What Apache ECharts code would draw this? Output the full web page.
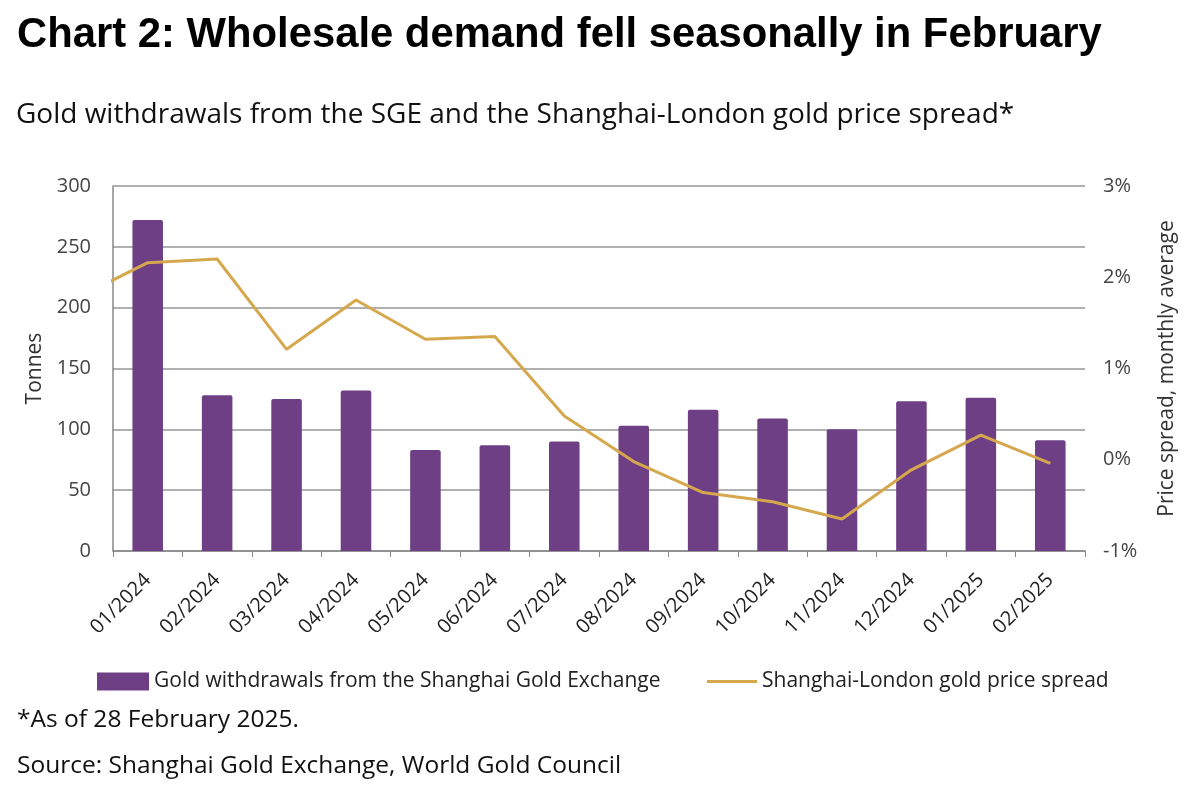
<!DOCTYPE html>
<html>
<head>
<meta charset="utf-8">
<script src="https://cdn.jsdelivr.net/npm/echarts@6/dist/echarts.min.js"></script>
<style>html,body{margin:0;padding:0;background:#fff}#c{width:1200px;height:787px}</style>
</head>
<body>
<div id="c"></div>
<script>
const categories = ['01/2024','02/2024','03/2024','04/2024','05/2024','06/2024','07/2024','08/2024','09/2024','10/2024','11/2024','12/2024','01/2025','02/2025'];
const withdrawals = [272, 128, 125, 132, 83, 87, 90, 103, 116, 109, 100, 123, 126, 91];
// Spread series includes 12/2023 (clipped at the plot edge)
const spreadPrev = 1.78;
const spread = [2.16, 2.20, 1.21, 1.75, 1.32, 1.35, 0.48, -0.02, -0.36, -0.46, -0.65, -0.11, 0.27, -0.04];
const leftTicks = [0, 50, 100, 150, 200, 250, 300];
const rightTicks = [-1, 0, 1, 2, 3];

const spreadData = [[-1, spreadPrev]].concat(spread.map((v, i) => [i, v]));

const BAR_NAME = 'Gold withdrawals from the Shanghai Gold Exchange';
const LINE_NAME = 'Shanghai-London gold price spread';

const chart = echarts.init(document.getElementById('c'));
const labelFont = 'Open Sans';
chart.setOption({
  animation: false,
  title: [
    {text: 'Chart 2: Wholesale demand fell seasonally in February', left: 17, top: 14, padding: 0,
     textStyle: {fontFamily: 'Liberation Sans', fontWeight: 'bold', fontSize: 41.8, color: '#000'}},
    {text: 'Gold withdrawals from the SGE and the Shanghai-London gold price spread*', left: 16, top: 101, padding: 0,
     textStyle: {fontFamily: labelFont, fontWeight: 'normal', fontSize: 28, color: '#111'}},
    {text: '*As of 28 February 2025.', left: 17, top: 708, padding: 0,
     textStyle: {fontFamily: labelFont, fontWeight: 'normal', fontSize: 24.5, color: '#111'}},
    {text: 'Source: Shanghai Gold Exchange, World Gold Council', left: 17, top: 754, padding: 0,
     textStyle: {fontFamily: labelFont, fontWeight: 'normal', fontSize: 24.5, color: '#111'}}
  ],
  legend: [
    {left: 97, top: 671, padding: 0, itemWidth: 52, itemHeight: 18, itemGap: 4,
     textStyle: {fontFamily: labelFont, fontSize: 21, color: '#222'},
     data: [{name: BAR_NAME, icon: 'rect'}]},
    {left: 707, top: 671, padding: 0, itemWidth: 50, itemHeight: 3,
     textStyle: {fontFamily: labelFont, fontSize: 21, color: '#222'},
     data: [{name: LINE_NAME, icon: 'rect', itemStyle: {color: '#d5a84e'}}]}
  ],
  grid: {left: 113, right: 115, top: 186, bottom: 236},
  xAxis: [
    {type: 'category', data: categories, boundaryGap: true,
     axisLine: {lineStyle: {color: '#888', width: 1.5}},
     axisTick: {show: true, length: 6, lineStyle: {color: '#888'}},
     axisLabel: {rotate: 45, fontFamily: labelFont, fontSize: 20, color: '#222', margin: 26}},
    {type: 'value', min: -0.5, max: 13.5, show: false}
  ],
  yAxis: [
    {type: 'value', min: 0, max: 300, interval: 50,
     name: 'Tonnes', nameLocation: 'middle', nameGap: 64, nameRotate: 90,
     nameTextStyle: {fontFamily: labelFont, fontSize: 21, color: '#333'},
     axisLine: {show: true, onZero: false, lineStyle: {color: '#888', width: 1.5}},
     axisTick: {show: false},
     axisLabel: {fontFamily: labelFont, fontSize: 20, color: '#444', margin: 22},
     splitLine: {lineStyle: {color: '#b0b0b0', width: 2}}},
    {type: 'value', min: -1, max: 3, interval: 1, position: 'right',
     name: 'Price spread, monthly average', nameLocation: 'middle', nameGap: 72, nameRotate: 90,
     nameTextStyle: {fontFamily: labelFont, fontSize: 21, color: '#333'},
     axisLine: {show: false, onZero: false}, axisTick: {show: false},
     axisLabel: {fontFamily: labelFont, fontSize: 20, color: '#444', margin: 18, formatter: v => v + '%'},
     splitLine: {show: false}}
  ],
  series: [
    {name: BAR_NAME, type: 'bar', data: withdrawals,
     xAxisIndex: 0, yAxisIndex: 0, barWidth: '44%',
     itemStyle: {color: '#6e3f85', borderRadius: [2,2,0,0]}},
    {name: LINE_NAME, type: 'line', data: spreadData,
     xAxisIndex: 1, yAxisIndex: 1, showSymbol: false, symbol: 'none', clip: true,
     lineStyle: {color: '#d5a84e', width: 3}, itemStyle: {color: '#d5a84e'}}
  ]
});
</script>
</body>
</html>
